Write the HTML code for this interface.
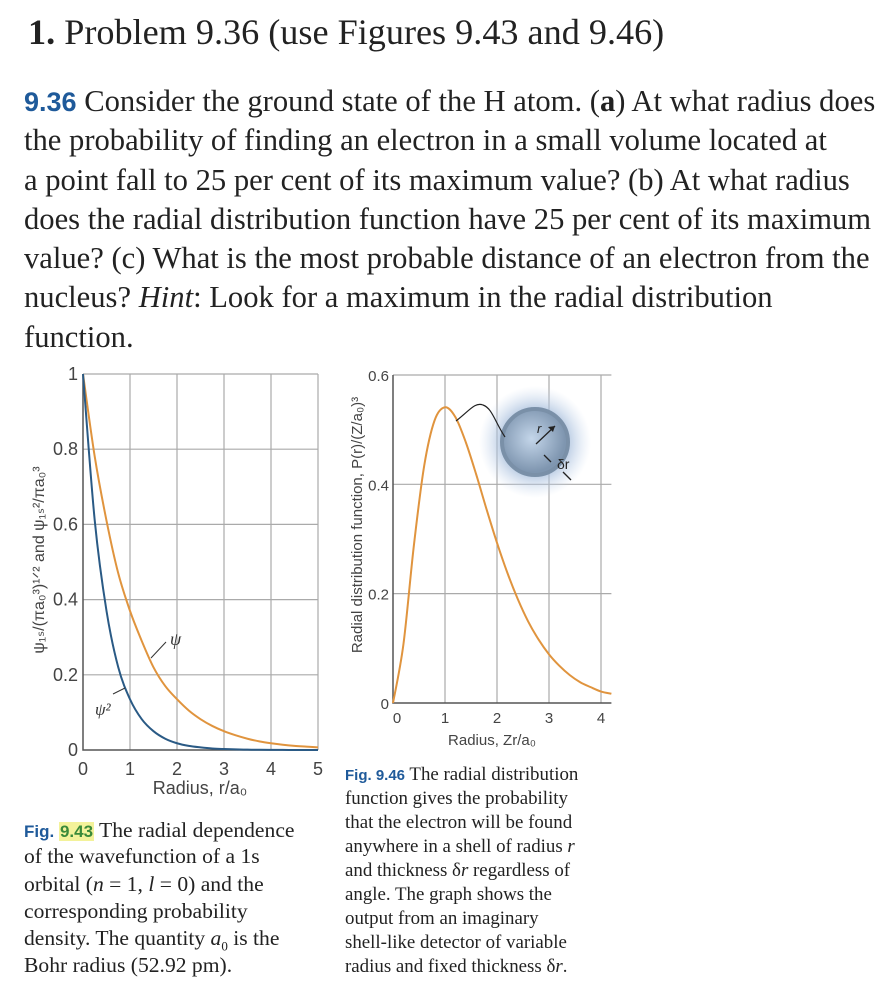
<!DOCTYPE html>
<html><head><meta charset="utf-8"><style>
body{margin:0;width:883px;height:990px;overflow:hidden;background:#fff;position:relative;font-family:"Liberation Serif",serif;color:#222}
.l{position:absolute;left:24px;white-space:nowrap;font-size:30.6px;line-height:36px}
.c1{position:absolute;left:24px;white-space:nowrap;font-size:21.6px;line-height:26px}
.c2{position:absolute;left:345px;white-space:nowrap;font-size:18.9px;line-height:24px}
.fb{font-family:"Liberation Sans",sans-serif;font-weight:bold;color:#1f5a9a}
svg{position:absolute;left:0;top:0}
</style></head><body>
<div style="position:absolute;left:28px;top:10px;font-size:36.2px;line-height:44px;white-space:nowrap"><b>1.</b> Problem 9.36 (use Figures 9.43 and 9.46)</div>
<div>
<div class="l" style="top:83px"><span class="fb" style="font-size:27px">9.36</span> Consider the ground state of the H atom. (<b>a</b>) At what radius does</div>
<div class="l" style="top:122px">the probability of finding an electron in a small volume located at</div>
<div class="l" style="top:162px">a point fall to 25 per cent of its maximum value? (b) At what radius</div>
<div class="l" style="top:201px">does the radial distribution function have 25 per cent of its maximum</div>
<div class="l" style="top:240px">value? (c) What is the most probable distance of an electron from the</div>
<div class="l" style="top:279px">nucleus? <i>Hint</i>: Look for a maximum in the radial distribution</div>
<div class="l" style="top:319px">function.</div>
</div>
<div>
<div class="c1" style="top:817px"><span class="fb" style="font-size:17px">Fig. <span style="background:#f3f29a;color:#3a8a3a;padding:0 1px">9.43</span></span> The radial dependence</div>
<div class="c1" style="top:843px">of the wavefunction of a 1s</div>
<div class="c1" style="top:871px">orbital (<i>n</i> = 1, <i>l</i> = 0) and the</div>
<div class="c1" style="top:898px">corresponding probability</div>
<div class="c1" style="top:925px">density. The quantity <i>a</i><sub style="font-size:13px">0</sub> is the</div>
<div class="c1" style="top:952px">Bohr radius (52.92 pm).</div>
</div>
<div>
<div class="c2" style="top:763px"><span class="fb" style="font-size:15px">Fig. 9.46</span> The radial distribution</div>
<div class="c2" style="top:787px">function gives the probability</div>
<div class="c2" style="top:811px">that the electron will be found</div>
<div class="c2" style="top:835px">anywhere in a shell of radius <i>r</i></div>
<div class="c2" style="top:859px">and thickness δ<i>r</i> regardless of</div>
<div class="c2" style="top:883px">angle. The graph shows the</div>
<div class="c2" style="top:907px">output from an imaginary</div>
<div class="c2" style="top:931px">shell-like detector of variable</div>
<div class="c2" style="top:955px">radius and fixed thickness δ<i>r</i>.</div>
</div>
<svg id="s" width="883" height="990" font-family="Liberation Sans, sans-serif">
<defs><radialGradient id="glow"><stop offset="0.55" stop-color="#9fb8d8" stop-opacity="0.8"/><stop offset="1" stop-color="#c8d8ee" stop-opacity="0"/></radialGradient>
<radialGradient id="ball" cx="0.45" cy="0.45"><stop offset="0" stop-color="#c4d6ea"/><stop offset="1" stop-color="#7f96b0"/></radialGradient></defs>
</svg>
<script>
// Fig 9.43 data
const leftR=[0,0.25,0.5,0.75,1,1.25,1.5,1.75,2,2.25,2.5,2.75,3,3.25,3.5,3.75,4,4.25,4.5,4.75,5];
const psiVals=[1,0.78,0.61,0.47,0.37,0.29,0.22,0.17,0.135,0.105,0.082,0.064,0.05,0.039,0.03,0.023,0.018,0.014,0.011,0.009,0.007];
const psi2Vals=[1,0.61,0.37,0.22,0.135,0.082,0.05,0.03,0.018,0.011,0.007,0.004,0.0025,0.0015,0.001,0.0005,0.0003,0.0002,0.0001,0,0];
const leftXTicks=[0,1,2,3,4,5];
const leftYTicks=[0,0.2,0.4,0.6,0.8,1];
const leftYLabels=["0","0.2","0.4","0.6","0.8","1"];
// Fig 9.46 data
const rightR=[0,0.2,0.4,0.6,0.8,1,1.2,1.4,1.6,1.8,2,2.2,2.4,2.6,2.8,3,3.2,3.4,3.6,3.8,4,4.2];
const pVals=[0,0.107,0.287,0.434,0.517,0.541,0.523,0.477,0.418,0.354,0.293,0.238,0.19,0.149,0.116,0.089,0.068,0.051,0.038,0.029,0.021,0.017];
const rightXTicks=[0,1,2,3,4];
const rightYTicks=[0,0.2,0.4,0.6];
const rightYLabels=["0","0.2","0.4","0.6"];

const S=document.getElementById('s'),NS='http://www.w3.org/2000/svg';
function mk(t,a,txt){const e=document.createElementNS(NS,t);for(const k in a)e.setAttribute(k,a[k]);if(txt!=null)e.textContent=txt;S.appendChild(e);return e;}
const lx=v=>83+v*47, ly=v=>750-v*376;
const rx=v=>393+v*52, ry=v=>703-v*546.7;
function smooth(xs,ys,fx,fy){const p=xs.map((x,i)=>[fx(x),fy(ys[i])]);let d='M'+p[0][0]+','+p[0][1];
for(let i=0;i<p.length-1;i++){const p0=p[Math.max(0,i-1)],p1=p[i],p2=p[i+1],p3=p[Math.min(p.length-1,i+2)];
d+=` C${p1[0]+(p2[0]-p0[0])/6},${p1[1]+(p2[1]-p0[1])/6} ${p2[0]-(p3[0]-p1[0])/6},${p2[1]-(p3[1]-p1[1])/6} ${p2[0]},${p2[1]}`;}return d;}
let e;
leftXTicks.forEach(t=>{if(t>0){e=mk('line',{x1:lx(t),x2:lx(t),y1:ly(1),y2:ly(0),stroke:'#aaa','stroke-width':1.2});

}
e=mk('text',{x:lx(t),y:775,'font-size':18,'text-anchor':'middle',fill:'#444'},String(t));

});
leftYTicks.forEach((t,i)=>{if(t>0){e=mk('line',{x1:lx(0),x2:lx(5),y1:ly(t),y2:ly(t),stroke:'#aaa','stroke-width':1.2});

}
e=mk('text',{x:78,y:ly(t)+6,'font-size':18,'text-anchor':'end',fill:'#444'},leftYLabels[i]);

});
e=mk('path',{d:`M${lx(0)},${ly(1)}V${ly(0)}H${lx(5)}`,fill:'none',stroke:'#555','stroke-width':1.5});


e=mk('path',{d:smooth(leftR,psiVals,lx,ly),fill:'none',stroke:'#e0943e','stroke-width':2});


e=mk('path',{d:smooth(leftR,psi2Vals,lx,ly),fill:'none',stroke:'#2a5a85','stroke-width':2});


mk('line',{x1:151,y1:658,x2:166,y2:642,stroke:'#333','stroke-width':1});
e=mk('text',{x:170,y:645,'font-size':18,'font-style':'italic',fill:'#333','font-family':'Liberation Serif, serif'},'ψ');


mk('line',{x1:113,y1:694,x2:125,y2:688,stroke:'#333','stroke-width':1});
e=mk('text',{x:95,y:715,'font-size':17,'font-style':'italic',fill:'#333','font-family':'Liberation Serif, serif'},'ψ²');


e=mk('text',{x:200,y:794,'font-size':18,'text-anchor':'middle',fill:'#444'},'Radius, r/a₀');


e=mk('text',{x:0,y:0,'font-size':16,'text-anchor':'middle',fill:'#444',transform:'translate(44,560) rotate(-90)'},'ψ₁ₛ/(πa₀³)¹ᐟ² and ψ₁ₛ²/πa₀³');


rightXTicks.forEach(t=>{if(t>0){e=mk('line',{x1:rx(t),x2:rx(t),y1:ry(0.6),y2:ry(0),stroke:'#aaa','stroke-width':1.2});

}
e=mk('text',{x:rx(t)+(t==0?4:0),y:723,'font-size':15,'text-anchor':'middle',fill:'#444'},String(t));

});
rightYTicks.forEach((t,i)=>{if(t>0){e=mk('line',{x1:rx(0),x2:rx(4.2),y1:ry(t),y2:ry(t),stroke:'#aaa','stroke-width':1.2});

}
e=mk('text',{x:389,y:ry(t)+6,'font-size':15,'text-anchor':'end',fill:'#444'},rightYLabels[i]);

});
e=mk('path',{d:`M${rx(0)},${ry(0.6)}V${ry(0)}H${rx(4.2)}`,fill:'none',stroke:'#555','stroke-width':1.5});


e=mk('path',{d:smooth(rightR,pVals,rx,ry),fill:'none',stroke:'#e0943e','stroke-width':2});


e=mk('text',{x:492,y:745,'font-size':15,'text-anchor':'middle',fill:'#444'},'Radius, Zr/a₀');


e=mk('text',{x:0,y:0,'font-size':15,'text-anchor':'middle',fill:'#444',transform:'translate(362,525) rotate(-90)'},'Radial distribution function, P(r)/(Z/a₀)³');


mk('circle',{cx:535,cy:442,r:56,fill:'url(#glow)'});
e=mk('circle',{cx:535,cy:442,r:33,fill:'url(#ball)',stroke:'#7a90a8','stroke-width':4});


mk('path',{d:'M456,421 C470,410 475,402 483,405 C492,408 495,422 505,437',fill:'none',stroke:'#222','stroke-width':1.2});
mk('line',{x1:536,y1:444,x2:555,y2:426,stroke:'#222','stroke-width':1.3});
mk('path',{d:'M555,426 l-7,1 l5,5z',fill:'#222'});
mk('text',{x:537,y:433,'font-size':13,'font-style':'italic',fill:'#222'},'r');
mk('text',{x:557,y:469,'font-size':14,fill:'#222'},'δr');
mk('line',{x1:544,y1:455,x2:551,y2:462,stroke:'#222','stroke-width':1.3});
mk('line',{x1:571,y1:480,x2:563,y2:472,stroke:'#222','stroke-width':1.3});
</script>
</body></html>
